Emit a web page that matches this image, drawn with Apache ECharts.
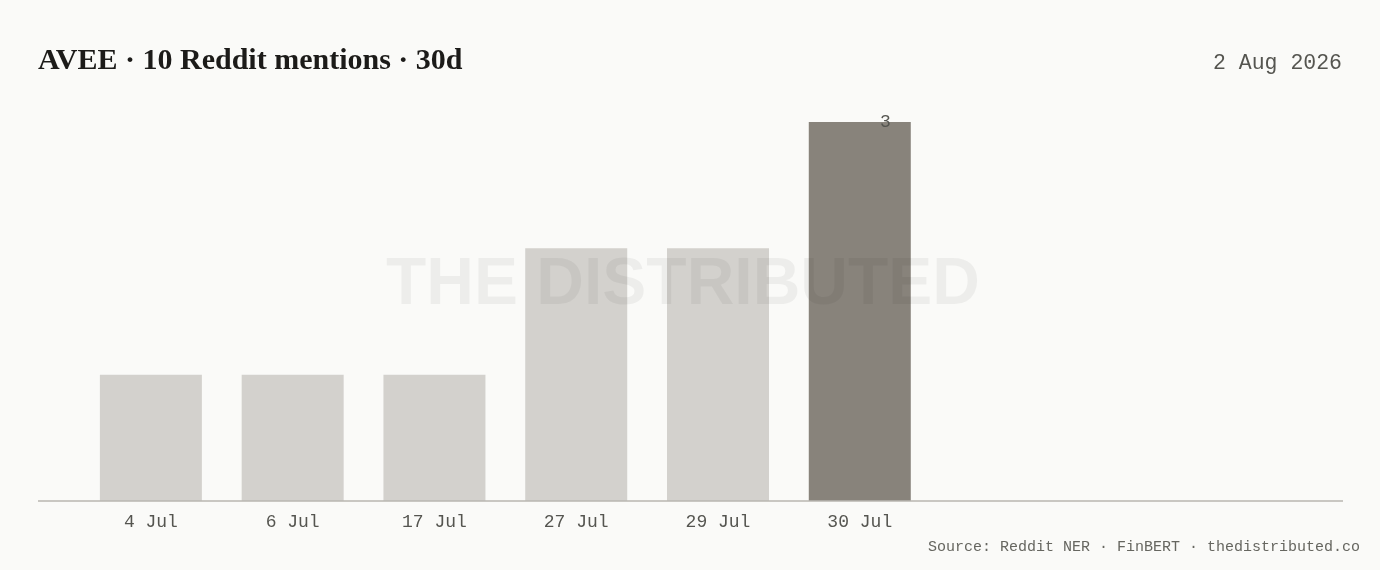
<!DOCTYPE html>
<html>
<head>
<meta charset="utf-8">
<script src="https://cdn.jsdelivr.net/npm/echarts@6/dist/echarts.min.js"></script>
<style>
  html, body { margin: 0; padding: 0; background: #fafaf8; }
  #chart { width: 1380px; height: 570px; }
</style>
</head>
<body>
<div id="chart"></div>
<script>
// mentions per day, last 30 days
var days = ['4 Jul', '6 Jul', '17 Jul', '27 Jul', '29 Jul', '30 Jul'];
var mentions = [1, 1, 1, 2, 2, 3];
var emptySlots = ['', '', ''];

var chart = echarts.init(document.getElementById('chart'));

var mono = '"Liberation Mono", "DejaVu Sans Mono", monospace';
var lastIdx = mentions.length - 1;

var barData = mentions.map(function (v, i) {
    var item = {
        value: v,
        itemStyle: { color: i === lastIdx ? '#88837b' : '#d3d1cd' }
    };
    if (i === lastIdx) {
        item.label = {
            show: true,
            position: ['75%', 0],
            align: 'center',
            verticalAlign: 'middle',
            color: '#555550',
            fontFamily: mono,
            fontSize: 18
        };
    }
    return item;
});

var option = {
    backgroundColor: '#fafaf8',
    animation: false,
    grid: {
        left: 80,
        right: 24,
        top: 122,
        bottom: 69
    },
    xAxis: {
        type: 'category',
        data: days.concat(emptySlots),
        axisLine: { show: false },
        axisTick: { show: false },
        axisLabel: {
            margin: 12,
            color: '#555550',
            fontFamily: mono,
            fontSize: 18
        }
    },
    yAxis: {
        type: 'value',
        min: 0,
        max: 3,
        show: false,
        splitLine: { show: false }
    },
    series: [{
        type: 'bar',
        barWidth: 102,
        data: barData,
        silent: true
    }],
    graphic: [
        {
            type: 'text',
            left: 38,
            top: 46,
            style: {
                text: 'AVEE · 10 Reddit mentions · 30d',
                fill: '#1c1b19',
                font: 'bold 30px "Liberation Serif", "DejaVu Serif", serif'
            }
        },
        {
            type: 'text',
            right: 38,
            top: 52,
            style: {
                text: '2 Aug 2026',
                fill: '#555550',
                font: '21.5px ' + mono
            }
        },
        {
            type: 'line',
            shape: { x1: 38, y1: 501, x2: 1343, y2: 501 },
            style: { stroke: '#b8b6b1', lineWidth: 1.5 },
            z: 5
        },
        {
            type: 'text',
            right: 20,
            top: 540,
            style: {
                text: 'Source: Reddit NER · FinBERT · thedistributed.co',
                fill: '#666660',
                font: '15px ' + mono
            }
        },
        {
            type: 'text',
            x: 683,
            y: 286,
            z: 100,
            style: {
                text: 'THE DISTRIBUTED',
                fill: 'rgba(0,0,0,0.05)',
                font: 'bold 66px "Liberation Sans", Arial, sans-serif',
                align: 'center',
                verticalAlign: 'middle'
            }
        }
    ]
};

chart.setOption(option);
</script>
</body>
</html>
